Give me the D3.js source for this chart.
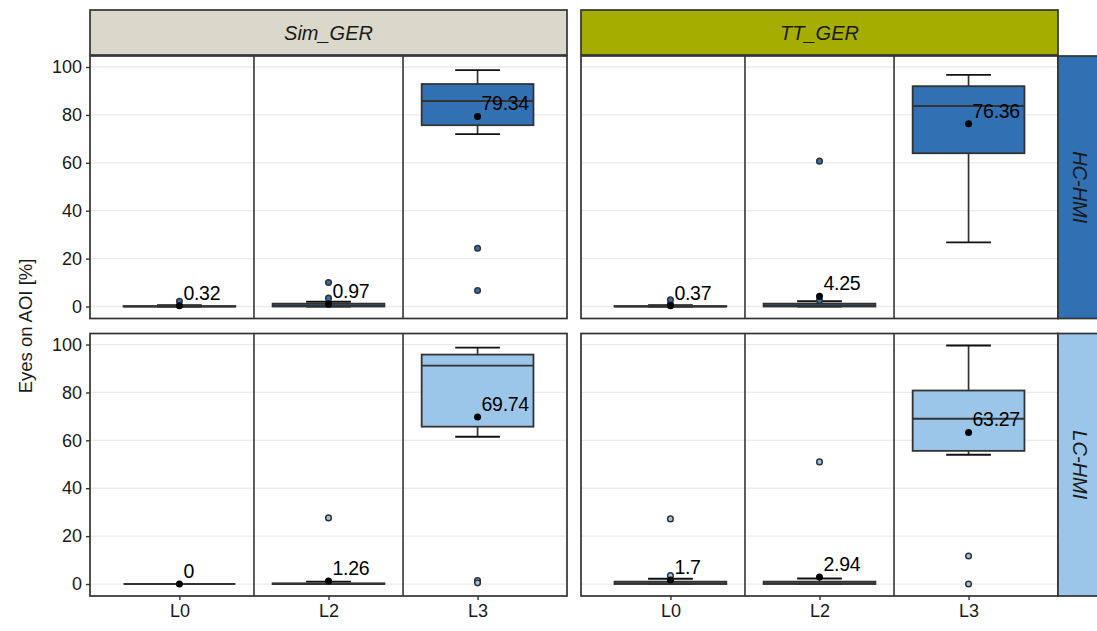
<!DOCTYPE html>
<html>
<head>
<meta charset="utf-8">
<script src="https://cdn.jsdelivr.net/npm/d3@7"></script>
<style>
  body { margin: 0; background: #fff; }
  text { font-family: "Liberation Sans", Arial, sans-serif; fill: #1a1a1a; }
</style>
</head>
<body>
<div id="chart"></div>
<script>
// facets and categories
const conditions = ["Sim_GER", "TT_GER"];
const hmis = ["HC-HMI", "LC-HMI"];
const levels = ["L0", "L2", "L3"];
const yTicks = [0, 20, 40, 60, 80, 100];

// rows: HC-HMI/Sim_GER, HC-HMI/TT_GER, LC-HMI/Sim_GER, LC-HMI/TT_GER ; cols: L0, L2, L3
const whiskerLow = [[0, 0, 72], [0, 0, 26.8], [0, 0, 61.5], [0, 0, 54]];
const q1 = [[0, 0, 75.7], [0, 0, 64], [0, 0, 65.7], [0, 0, 55.6]];
const median = [[0, 0.3, 85.8], [0, 0.3, 83.7], [0, 0, 91.2], [0.3, 0.3, 69]];
const q3 = [[0.2, 1.2, 92.9], [0.2, 1.2, 92], [0, 0.3, 95.8], [1, 1, 80.8]];
const whiskerHigh = [[0.5, 2, 98.7], [0.5, 2.2, 96.7], [0, 1, 98.7], [2.2, 2.3, 99.6]];
const means = [[0.32, 0.97, 79.34], [0.37, 4.25, 76.36], [0, 1.26, 69.74], [1.7, 2.94, 63.27]];
const outliers = [
  [[2.2], [3.5, 10], [24.3, 6.7]],
  [[1, 2.8], [2.5, 60.7], []],
  [[], [27.6], [1.5, 0.5]],
  [[3.5, 27.2], [51], [11.7, 0]]
];

const stripColors = { "Sim_GER": "#dad8cb", "TT_GER": "#a5ae00" };
const fillColors = { "HC-HMI": "#3070b3", "LC-HMI": "#9bc6e9" };

const W = 1097, H = 631;
const svg = d3.select("#chart").append("svg")
  .attr("width", W)
  .attr("height", H);

// panel layout
const colScale = d3.scaleBand().domain(conditions).range([90, 1058]).paddingInner(14 / 491);
const rowScale = d3.scaleBand().domain(hmis).range([56, 596]).paddingInner(15 / 277);
const pw = colScale.bandwidth();
const ph = rowScale.bandwidth();

const y = d3.scaleLinear().domain([-5, 104.6]).range([ph, 0]);
const x = d3.scaleLinear().domain([0.4, 3.6]).range([0, pw]);
const boxW = x(1.75) - x(1);
const capW = x(1.3) - x(1);

const ink = "#333333";

hmis.forEach((hmi, r) => {
  conditions.forEach((cond, c) => {
    const p = r * 2 + c;
    const g = svg.append("g")
      .attr("transform", `translate(${colScale(cond)},${rowScale(hmi)})`);

    // grid
    g.selectAll(".grid").data(yTicks).join("line")
      .attr("x1", 0).attr("x2", pw)
      .attr("y1", d => y(d)).attr("y2", d => y(d))
      .attr("stroke", "#ebebeb").attr("stroke-width", 1.3);

    // category dividers
    g.selectAll(".div").data([1.5, 2.5]).join("line")
      .attr("x1", d => x(d)).attr("x2", d => x(d))
      .attr("y1", 0).attr("y2", ph)
      .attr("stroke", "#1a1a1a").attr("stroke-width", 1.4);

    const rows = levels.map((lv, i) => ({
      pos: i + 1,
      lo: whiskerLow[p][i], q1: q1[p][i], med: median[p][i],
      q3: q3[p][i], hi: whiskerHigh[p][i], mean: means[p][i],
      out: outliers[p][i]
    }));

    const b = g.selectAll(".box").data(rows).join("g");

    b.each(function (d) {
      const s = d3.select(this);
      const cx = x(d.pos);
      // whiskers and caps
      [[d.q3, d.hi], [d.q1, d.lo]].forEach(([a, e]) => {
        s.append("line")
          .attr("x1", cx).attr("x2", cx)
          .attr("y1", y(a)).attr("y2", y(e))
          .attr("stroke", ink).attr("stroke-width", 1.7);
        s.append("line")
          .attr("x1", cx - capW / 2).attr("x2", cx + capW / 2)
          .attr("y1", y(e)).attr("y2", y(e))
          .attr("stroke", "#111").attr("stroke-width", 1.9);
      });
      s.append("rect")
        .attr("x", cx - boxW / 2).attr("width", boxW)
        .attr("y", y(d.q3)).attr("height", Math.max(0, y(d.q1) - y(d.q3)))
        .attr("fill", fillColors[hmi])
        .attr("stroke", ink).attr("stroke-width", 1.8);
      s.append("line")
        .attr("x1", cx - boxW / 2).attr("x2", cx + boxW / 2)
        .attr("y1", y(d.med)).attr("y2", y(d.med))
        .attr("stroke", ink).attr("stroke-width", 1.9);
      s.selectAll(".out").data(d.out).join("circle")
        .attr("cx", cx).attr("cy", v => y(v)).attr("r", 2.8)
        .attr("fill", fillColors[hmi])
        .attr("stroke", ink).attr("stroke-width", 1.5);
      s.append("circle")
        .attr("cx", cx).attr("cy", y(d.mean)).attr("r", 3.5)
        .attr("fill", "#000");
      s.append("text")
        .attr("x", cx + 4).attr("y", y(d.mean) - 6)
        .attr("font-size", 19.5)
        .attr("letter-spacing", -0.3)
        .style("fill", "#000")
        .text(d.mean);
    });

    // panel border
    g.append("rect")
      .attr("width", pw).attr("height", ph)
      .attr("fill", "none").attr("stroke", ink).attr("stroke-width", 1.7);

    // y axis on left column
    if (c === 0) {
      const ax = g.append("g").call(d3.axisLeft(y).tickValues(yTicks).tickSize(4).tickPadding(4));
      ax.select(".domain").remove();
      ax.selectAll(".tick line").attr("stroke", ink).attr("stroke-width", 1.4);
      ax.selectAll(".tick text").attr("font-size", 18).attr("font-family", "Liberation Sans, Arial, sans-serif").style("fill", "#1a1a1a");
    }
    // x axis on bottom row
    if (r === hmis.length - 1) {
      const xb = d3.scaleOrdinal().domain(levels).range(levels.map((l, i) => x(i + 1)));
      const ax = g.append("g").attr("transform", `translate(0,${ph})`)
        .call(d3.axisBottom(xb).tickSize(4).tickPadding(4));
      ax.select(".domain").remove();
      ax.selectAll(".tick line").attr("stroke", ink).attr("stroke-width", 1.4);
      ax.selectAll(".tick text").attr("font-size", 18).attr("font-family", "Liberation Sans, Arial, sans-serif").style("fill", "#1a1a1a");
    }
  });
});

// top strips
const topStrip = svg.selectAll(".tstrip").data(conditions).join("g")
  .attr("transform", d => `translate(${colScale(d)},10)`);
topStrip.append("rect")
  .attr("width", pw).attr("height", 45)
  .attr("fill", d => stripColors[d])
  .attr("stroke", ink).attr("stroke-width", 1.7);
topStrip.append("text")
  .attr("x", pw / 2).attr("y", 23)
  .attr("dy", "0.36em")
  .attr("text-anchor", "middle")
  .attr("font-size", 20)
  .attr("font-style", "italic")
  .text(d => d);

// right strips
const rightStrip = svg.selectAll(".rstrip").data(hmis).join("g")
  .attr("transform", d => `translate(1058,${rowScale(d)})`);
rightStrip.append("rect")
  .attr("width", 45).attr("height", ph)
  .attr("fill", d => fillColors[d])
  .attr("stroke", ink).attr("stroke-width", 1.7);
rightStrip.append("text")
  .attr("transform", `translate(22,${ph / 2}) rotate(90)`)
  .attr("dy", "0.36em")
  .attr("text-anchor", "middle")
  .attr("font-size", 20)
  .attr("font-style", "italic")
  .text(d => d);

// y title
svg.append("text")
  .attr("transform", `translate(25,${(56 + 596) / 2}) rotate(-90)`)
  .attr("dy", "0.36em")
  .attr("text-anchor", "middle")
  .attr("font-size", 18.5)
  .text("Eyes on AOI [%]");
</script>
</body>
</html>
